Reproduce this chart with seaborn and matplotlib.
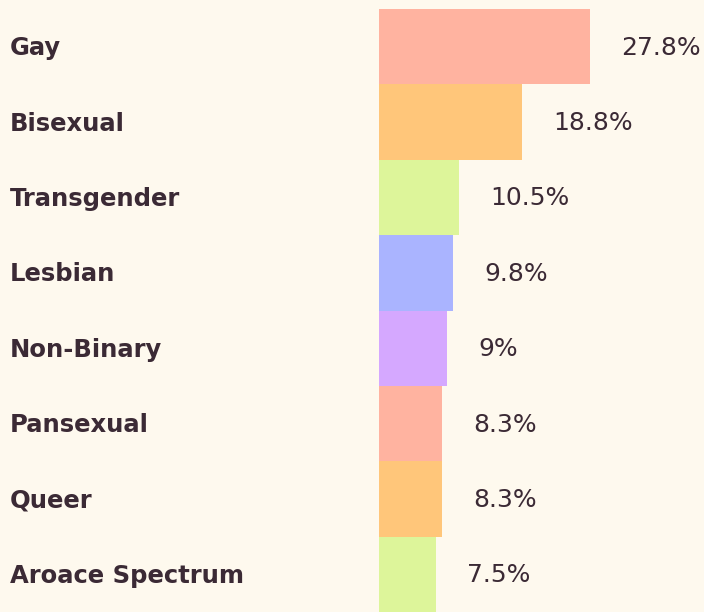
import matplotlib
matplotlib.use("Agg")
import matplotlib.pyplot as plt
import matplotlib.transforms as mtransforms
import seaborn as sns
import pandas as pd

# data
categories = ["Gay", "Bisexual", "Transgender", "Lesbian", "Non-Binary",
              "Pansexual", "Queer", "Aroace Spectrum"]
values = [27.8, 18.8, 10.5, 9.8, 9.0, 8.3, 8.3, 7.5]
colors = ["#FFB3A0", "#FFC67A", "#DDF59A", "#AAB4FF", "#D5A8FF",
          "#FFB3A0", "#FFC67A", "#DDF59A"]

bg = "#FEF9EE"
text_color = "#3B2A35"

sns.set_theme(style="white")
plt.rcParams['font.family'] = ['DejaVu Sans']

df = pd.DataFrame({"category": categories, "value": values})

fig = plt.figure(figsize=(7.04, 6.12), dpi=100, facecolor=bg)
ax = fig.add_axes([379 / 704, 0, 325 / 704, 603 / 612])
ax.set_facecolor(bg)

sns.barplot(data=df, x="value", y="category", hue="category",
            palette=colors, legend=False, width=1.0, saturation=1,
            linewidth=0, ax=ax)

ax.set_xlim(0, 325 / 7.6)
ax.set_ylim(len(categories) - 0.5, -0.5)
ax.set_xlabel("")
ax.set_ylabel("")
ax.set_xticks([])
ax.set_yticks([])
sns.despine(ax=ax, left=True, bottom=True)

# category labels at the left edge of the figure
trans = mtransforms.blended_transform_factory(fig.transFigure, ax.transData)
for i, cat in enumerate(categories):
    ax.text(10 / 704, i + 0.02, cat, transform=trans, ha="left", va="center",
            fontsize=17.5, fontweight="bold", color=text_color, clip_on=False)

# value labels right of each bar
for i, v in enumerate(values):
    ax.annotate(f"{v:g}%", xy=(v, i), xytext=(31, -1), textcoords="offset pixels",
                ha="left", va="center", fontsize=18, color=text_color,
                annotation_clip=False)

fig.savefig("out.png", dpi=100, facecolor=bg)
